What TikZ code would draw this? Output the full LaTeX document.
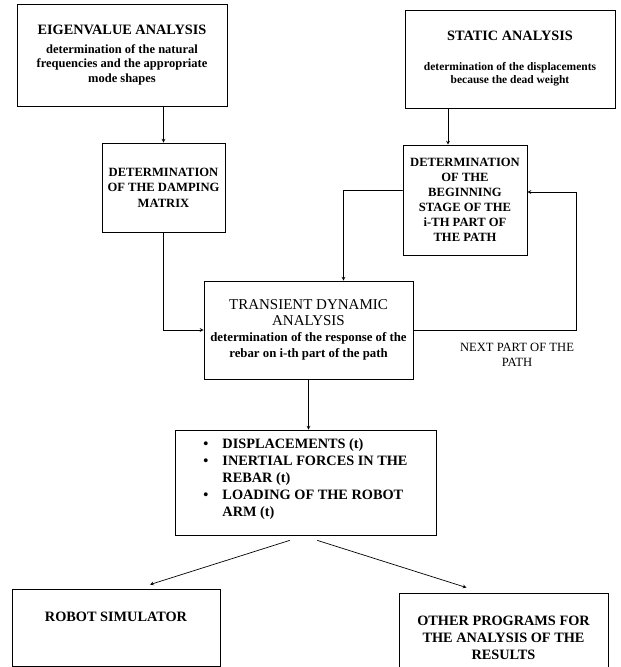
\documentclass[tikz,border=0pt]{standalone}
\usepackage{fontspec}
\setmainfont{Liberation Serif}
\newcommand{\ttl}{\bfseries\fontsize{14.3}{17}\selectfont}
\newcommand{\ttr}{\mdseries\fontsize{15}{17}\selectfont}
\begin{document}
\begin{tikzpicture}[>=stealth,x=1pt,y=-1pt,line cap=round,
		box/.style={draw,line width=0.9pt,align=center,inner sep=2pt},
		link/.style={line width=0.7pt}]
		\useasboundingbox (0,0) rectangle (621,667);
		% analysis boxes on top
		\node[box,minimum width=210pt,minimum height=102pt,
			font=\bfseries\fontsize{12.5}{14.5}\selectfont] (eigen) at (122,55)
		{{\ttl EIGENVALUE ANALYSIS}\\[4pt]determination of the natural\\frequencies and the appropriate\\mode shapes};
		\node[box,minimum width=210pt,minimum height=98pt,
			font=\bfseries\fontsize{11.5}{13}\selectfont] (static) at (510,59)
		{{\ttl STATIC ANALYSIS}\\[17pt]determination of the displacements\\because the dead weight};
		\node[box,minimum width=123pt,minimum height=89pt,
			font=\bfseries\fontsize{12.6}{15.5}\selectfont] (damp) at (163.5,187.5)
		{DETERMINATION\\OF THE DAMPING\\MATRIX};
		\node[box,minimum width=124pt,minimum height=110pt,
			font=\bfseries\fontsize{12.6}{15}\selectfont] (begin) at (465,200)
		{DETERMINATION\\OF THE\\BEGINNING\\STAGE OF THE\\i-TH PART OF\\THE PATH};
		\node[box,minimum width=209pt,minimum height=98pt,
			font=\bfseries\fontsize{12.8}{16}\selectfont] (trans) at (308.5,330)
		{{\ttr TRANSIENT DYNAMIC}\\{\ttr ANALYSIS}\\determination of the response of the\\rebar on i-th part of the path};
		\node[align=center,font=\fontsize{12.6}{15}\selectfont] (next) at (517,355)
		{NEXT PART OF THE\\PATH};
		\node[box,minimum width=261pt,minimum height=105pt,font=\ttl] (res) at (305.5,482.5)
		{\begin{tabular}{@{}c@{\hspace{14pt}}l@{}}
				\textbullet & DISPLACEMENTS (t)\\
				\textbullet & INERTIAL FORCES IN THE\\
				& REBAR (t)\\
				\textbullet & LOADING OF THE ROBOT\\
				& ARM (t)\\[6pt]
		\end{tabular}};
		\node[box,minimum width=208pt,minimum height=77pt,font=\ttl] (robot) at (116,627.5)
		{ROBOT SIMULATOR\\\strut};
		\node[box,minimum width=209pt,minimum height=90pt,font=\ttl] (other) at (503.5,638)
		{OTHER PROGRAMS FOR\\THE ANALYSIS OF THE\\RESULTS};
		% connectors
		\coordinate (loop) at (576,192);
		\draw[link,->] (eigen.south -| damp.north) -- (damp.north);
		\draw[link,->] ([xshift=-17pt]begin.north |- static.south) -- ([xshift=-17pt]begin.north);
		\draw[link,->] ([yshift=10pt]begin.west) -| ([xshift=35pt]trans.north);
		\draw[link,->] (trans.east) -| (loop) -- (loop -| begin.east);
		\draw[link,->] (damp.south) |- (trans.west);
		\draw[link,->] (trans.south) -- (trans.south |- res.north);
		\draw[link,->] ([xshift=-16pt,yshift=-5pt]res.south) -- ([xshift=34pt,yshift=4pt]robot.north);
		\draw[link,->] ([xshift=12pt,yshift=-5pt]res.south) -- ([xshift=-37pt,yshift=5pt]other.north);
	\end{tikzpicture}
\end{document}
